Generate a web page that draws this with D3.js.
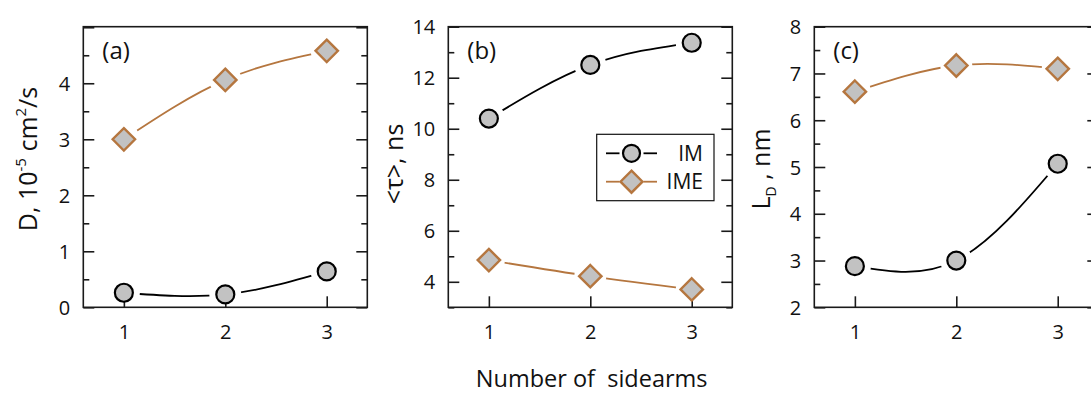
<!DOCTYPE html>
<html>
<head>
<meta charset="utf-8">
<script src="https://cdn.jsdelivr.net/npm/d3@7"></script>
<style>
  body { margin: 0; background: #fff; }
  svg { display: block; }
  text { font-family: "Open Sans", Lato, sans-serif; fill: #111; }
</style>
</head>
<body>
<svg id="chart" width="1091" height="394"></svg>
<script>
// Number of sidearms on the x axis of every panel
const sidearms = [1, 2, 3];

// (a) diffusion coefficient, 10^-5 cm^2/s
const diffIM  = [0.26, 0.23, 0.64];
const diffIME = [3.0, 4.06, 4.58];

// (b) mean lifetime <tau>, ns
const tauIM  = [10.4, 12.5, 13.37];
const tauIME = [4.85, 4.22, 3.7];

// (c) diffusion length L_D, nm
const ldIM  = [2.88, 3.0, 5.07];
const ldIME = [6.61, 7.17, 7.1];

// tick values
const xTickValues = [1, 2, 3];
const diffMajor = [0, 1, 2, 3, 4, 5];
const diffMinor = [0.5, 1.5, 2.5, 3.5, 4.5];
const diffLabels = [0, 1, 2, 3, 4];
const tauMajor = [4, 6, 8, 10, 12, 14];
const tauMinor = [3, 5, 7, 9, 11, 13];
const tauLabels = [4, 6, 8, 10, 12, 14];
const ldMajor = [2, 3, 4, 5, 6, 7, 8];
const ldMinor = [2.5, 3.5, 4.5, 5.5, 6.5, 7.5];
const ldLabels = [2, 3, 4, 5, 6, 7, 8];

const seriesNames = ["IM", "IME"];
const panelTags = ["(a)", "(b)", "(c)"];

const svg = d3.select("#chart");

const BROWN = "#b5763f";
const FILL = "#c2c2c2";
const panelTop = 26.7, panelH = 280.6, panelW = 284;
const panelLefts = [83.3, 448.3, 814.3];

const panels = [
  { tag: panelTags[0], im: diffIM, ime: diffIME, domain: [0, 5.01],
    major: diffMajor, minor: diffMinor, labels: diffLabels },
  { tag: panelTags[1], im: tauIM, ime: tauIME, domain: [3, 14],
    major: tauMajor, minor: tauMinor, labels: tauLabels },
  { tag: panelTags[2], im: ldIM, ime: ldIME, domain: [2, 8],
    major: ldMajor, minor: ldMinor, labels: ldLabels }
];

const defs = svg.append("defs");

function circleMarker(sel, r) {
  return sel.append("circle").attr("r", r)
    .attr("fill", FILL).attr("stroke", "#000").attr("stroke-width", 2.2);
}
function diamondMarker(sel, h) {
  return sel.append("path")
    .attr("d", `M0,${-h}L${h},0L0,${h}L${-h},0Z`)
    .attr("fill", FILL).attr("stroke", BROWN).attr("stroke-width", 2.4)
    .attr("stroke-linejoin", "miter");
}

panels.forEach((p, i) => {
  const left = panelLefts[i];
  const g = svg.append("g").attr("transform", `translate(${left},${panelTop})`);

  const x = d3.scaleLinear().domain([0.6, 3.4]).range([0, panelW]);
  const y = d3.scaleLinear().domain(p.domain).range([panelH, 0]);

  // frame
  g.append("rect").attr("width", panelW).attr("height", panelH)
    .attr("fill", "none").attr("stroke", "#1a1a1a").attr("stroke-width", 1.6);

  const fmt = d => p.labels.includes(d) ? d3.format("d")(d) : "";

  // left axis: labelled major ticks + minor ticks, all pointing inward
  const yl = g.append("g").call(d3.axisLeft(y).tickValues(p.major).tickSize(-11)
    .tickPadding(13).tickFormat(fmt));
  const ylm = g.append("g").call(d3.axisLeft(y).tickValues(p.minor).tickSize(-6).tickFormat(""));
  // right axis ticks
  const yr = g.append("g").attr("transform", `translate(${panelW},0)`)
    .call(d3.axisRight(y).tickValues(p.major).tickSize(-11).tickFormat(""));
  const yrm = g.append("g").attr("transform", `translate(${panelW},0)`)
    .call(d3.axisRight(y).tickValues(p.minor).tickSize(-6).tickFormat(""));
  // bottom axis
  const xb = g.append("g").attr("transform", `translate(0,${panelH})`)
    .call(d3.axisBottom(x).tickValues(xTickValues).tickSize(-11).tickPadding(18)
      .tickFormat(d3.format("d")));

  [yl, ylm, yr, yrm, xb].forEach(a => {
    a.select(".domain").remove();
    a.selectAll("line").attr("stroke", "#1a1a1a").attr("stroke-width", 1.6);
    a.selectAll("text").attr("font-size", 20).attr("font-family", "'Open Sans', sans-serif")
      .attr("fill", "#111");
  });
  yl.selectAll("text").attr("dy", "0.36em");
  xb.selectAll("text").attr("dy", "0.71em");

  // gap mask so lines stop short of markers
  const maskId = `gap${i}`;
  const mask = defs.append("mask").attr("id", maskId).attr("maskUnits", "userSpaceOnUse");
  mask.append("rect").attr("x", -20).attr("y", -20).attr("width", panelW + 40)
    .attr("height", panelH + 40).attr("fill", "#fff");
  [p.im, p.ime].forEach(vals => {
    mask.selectAll(null).data(vals).enter().append("circle")
      .attr("cx", (d, k) => x(sidearms[k])).attr("cy", d => y(d)).attr("r", 16)
      .attr("fill", "#000");
  });

  const line = d3.line().x((d, k) => x(sidearms[k])).y(d => y(d)).curve(d3.curveNatural);

  g.append("path").attr("d", line(p.ime)).attr("fill", "none").attr("stroke", BROWN)
    .attr("stroke-width", 1.8).attr("mask", `url(#${maskId})`);
  g.append("path").attr("d", line(p.im)).attr("fill", "none").attr("stroke", "#000")
    .attr("stroke-width", 1.8).attr("mask", `url(#${maskId})`);

  p.ime.forEach((v, k) => {
    const m = g.append("g").attr("transform", `translate(${x(sidearms[k])},${y(v)})`);
    diamondMarker(m, 11.2);
  });
  p.im.forEach((v, k) => {
    const m = g.append("g").attr("transform", `translate(${x(sidearms[k])},${y(v)})`);
    circleMarker(m, 9);
  });

  g.append("text").attr("x", 19).attr("y", 32).attr("font-size", 24).text(p.tag);
});

// y-axis titles
function yTitle(xPos, yPos) {
  return svg.append("text")
    .attr("transform", `translate(${xPos},${yPos}) rotate(-90)`)
    .attr("text-anchor", "middle").attr("font-size", 25);
}
const ta = yTitle(36.7, 159);
ta.append("tspan").text("D, 10");
ta.append("tspan").attr("font-size", 15).attr("dy", -11).text("-5");
ta.append("tspan").attr("dy", 11).text(" cm");
ta.append("tspan").attr("font-size", 15).attr("dy", -11).text("2");
ta.append("tspan").attr("dy", 11).text("/s");

const tb = yTitle(403, 164);
tb.text("<\u03c4>, ns");

const tc = yTitle(770, 169);
tc.append("tspan").text("L");
tc.append("tspan").attr("font-size", 14).attr("dy", 6).text("D");
tc.append("tspan").attr("dy", -6).text(" , nm");

// x-axis title, shared by all panels
svg.append("text").attr("x", 591.7).attr("y", 387).attr("text-anchor", "middle")
  .attr("font-size", 23.5).attr("xml:space", "preserve").style("white-space", "pre")
  .text("Number of  sidearms");

// legend inside panel (b)
const lg = svg.append("g");
lg.append("rect").attr("x", 596.7).attr("y", 134.3).attr("width", 117.3).attr("height", 66.4)
  .attr("fill", "#fff").attr("stroke", "#111").attr("stroke-width", 1.2);
const legendRows = [
  { name: seriesNames[0], y: 153.3, color: "#000", marker: "circle" },
  { name: seriesNames[1], y: 181.7, color: BROWN, marker: "diamond" }
];
legendRows.forEach(r => {
  lg.append("line").attr("x1", 606).attr("x2", 619.5).attr("y1", r.y).attr("y2", r.y)
    .attr("stroke", r.color).attr("stroke-width", 1.8);
  lg.append("line").attr("x1", 643.5).attr("x2", 657).attr("y1", r.y).attr("y2", r.y)
    .attr("stroke", r.color).attr("stroke-width", 1.8);
  const m = lg.append("g").attr("transform", `translate(631.5,${r.y})`);
  if (r.marker === "circle") circleMarker(m, 8.5); else diamondMarker(m, 11);
  lg.append("text").attr("x", 703).attr("y", r.y).attr("dy", "0.36em")
    .attr("text-anchor", "end").attr("font-size", 21)
    .attr("font-family", "'Liberation Sans', Arial, sans-serif").text(r.name);
});
</script>
</body>
</html>
